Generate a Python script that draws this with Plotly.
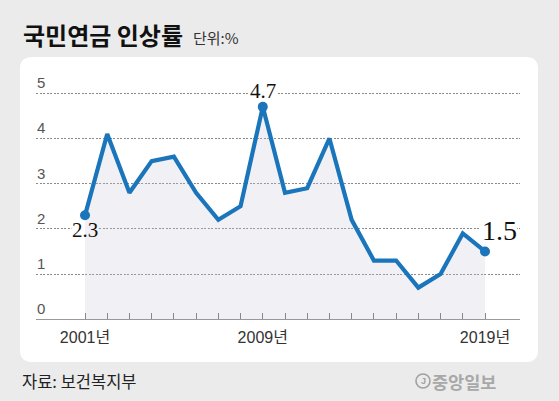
import plotly.graph_objects as go

years = list(range(2001, 2020))
rates = [2.3, 4.1, 2.8, 3.5, 3.6, 2.8, 2.2, 2.5, 4.7, 2.8, 2.9, 4.0, 2.2, 1.3, 1.3, 0.7, 1.0, 1.9, 1.5]
x_tick_labels = {2001: "2001년", 2009: "2009년", 2019: "2019년"}
y_ticks = [0, 1, 2, 3, 4, 5]
highlight_years = [2001, 2009, 2019]

W, H = 559, 401
BLUE = "#1b75bb"
SANS = "Liberation Sans, Noto Sans CJK KR, sans-serif"
KR = "Noto Sans CJK KR, sans-serif"
SERIF = "Liberation Serif, DejaVu Serif, serif"

fig = go.Figure()

fig.add_trace(go.Scatter(
    x=years, y=rates, mode="lines", fill="tozeroy",
    fillcolor="rgba(200,200,215,0.25)",
    line=dict(color=BLUE, width=4.2), hoverinfo="skip", showlegend=False,
))
hi = [rates[years.index(y)] for y in highlight_years]
fig.add_trace(go.Scatter(
    x=highlight_years, y=hi, mode="markers",
    marker=dict(color=BLUE, size=10), hoverinfo="skip", showlegend=False,
))

def px(x):
    return x / W

def py(y):
    return 1 - y / H

# background panel (rounded)
x0, x1, y0, y1, r = px(20), px(538), py(57), py(362), 12
rx, ry = r / W, r / H
path = (f"M {x0+rx},{y0} L {x1-rx},{y0} Q {x1},{y0} {x1},{y0-ry} "
        f"L {x1},{y1+ry} Q {x1},{y1} {x1-rx},{y1} L {x0+rx},{y1} "
        f"Q {x0},{y1} {x0},{y1+ry} L {x0},{y0-ry} Q {x0},{y0} {x0+rx},{y0} Z")
shapes = [dict(type="path", path=path, xref="paper", yref="paper",
               fillcolor="white", line=dict(width=0), layer="below")]
# logo circle
shapes.append(dict(type="circle", xref="paper", yref="paper",
                   x0=px(416), x1=px(430), y0=py(388), y1=py(374),
                   line=dict(color="#a0a0a0", width=1.6)))

# white masks behind value labels (hide gridlines, stay under the line)
label_specs = [  # (year index, text, size, xshift, yshift)
    (0, "2.3", 21, 0, -15),
    (8, "4.7", 21, 0, 16),
    (18, "1.5", 28, 14, 21),
]
for i, txt, sz, xs, ys in label_specs:
    hw = sz * 0.65
    hh = sz * 0.38
    shapes.append(dict(type="rect", layer="between", xref="x", yref="y",
                       xsizemode="pixel", ysizemode="pixel",
                       xanchor=years[i], yanchor=rates[i],
                       x0=xs - hw, x1=xs + hw, y0=ys - hh, y1=ys + hh,
                       fillcolor="white", line=dict(width=0)))

annotations = []
for t in y_ticks:
    annotations.append(dict(x=px(35), xref="paper", y=t, yref="y", text=str(t),
                            showarrow=False, xanchor="left", yanchor="bottom", yshift=0,
                            font=dict(family=SANS, size=15, color="#555")))

for i, txt, sz, xs, ys in label_specs:
    annotations.append(dict(x=years[i], y=rates[i], text=txt, showarrow=False,
                            xshift=xs, yshift=ys,
                            font=dict(family=SERIF, size=sz, color="#111")))

annotations += [
    dict(x=px(21), y=py(34), xref="paper", yref="paper", text="<b>국민연금 인상률</b>",
         showarrow=False, xanchor="left", yanchor="middle",
         font=dict(family=KR, size=24, color="#111")),
    dict(x=px(191), y=py(37), xref="paper", yref="paper", text="단위:%",
         showarrow=False, xanchor="left", yanchor="middle",
         font=dict(family=KR, size=15, color="#333")),
    dict(x=px(20), y=py(381), xref="paper", yref="paper", text="자료: 보건복지부",
         showarrow=False, xanchor="left", yanchor="middle",
         font=dict(family=KR, size=16.5, color="#222")),
    dict(x=px(423), y=py(381), xref="paper", yref="paper", text="<b>J</b>",
         showarrow=False, xanchor="center", yanchor="middle",
         font=dict(family=SANS, size=9, color="#a0a0a0")),
    dict(x=px(430), y=py(381), xref="paper", yref="paper", text="<b>중앙일보</b>",
         showarrow=False, xanchor="left", yanchor="middle",
         font=dict(family=KR, size=17.5, color="#a8a8a8")),
]

fig.update_layout(
    width=W, height=H, margin=dict(l=0, r=0, t=0, b=0),
    paper_bgcolor="#ebebeb", plot_bgcolor="rgba(0,0,0,0)",
    shapes=shapes, annotations=annotations,
    xaxis=dict(domain=[px(36), px(520)], range=[1998.795, 2020.575],
               tickvals=years, ticktext=[x_tick_labels.get(y, "") for y in years],
               ticks="inside", ticklen=6, tickcolor="#888", tickwidth=1,
               showline=True, linecolor="#999", linewidth=1,
               showgrid=False, zeroline=False, ticklabelstandoff=3,
               tickfont=dict(family=SANS, size=16, color="#333")),
    yaxis=dict(domain=[py(319.3), py(70)], range=[0, 5.515],
               tickvals=y_ticks, showticklabels=False,
               showgrid=True, gridcolor="#8a8a8a", griddash="2px,1.5px", gridwidth=1,
               zeroline=False, showline=False),
)

fig.write_html("out.html")
